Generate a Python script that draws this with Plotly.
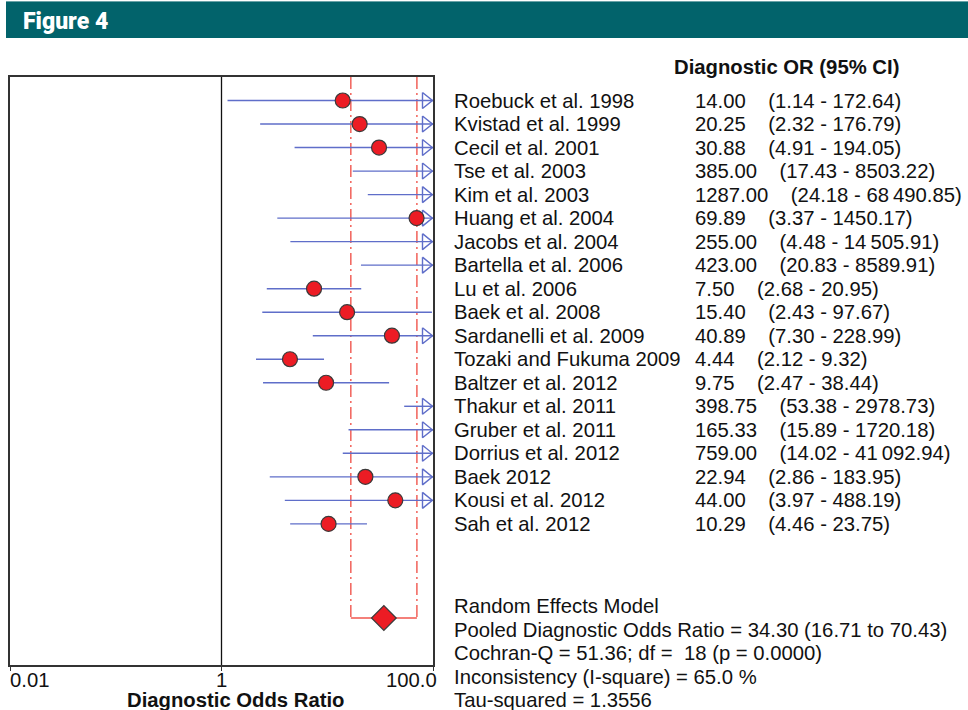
import plotly.graph_objects as go

# ---- study-level data ----
studies = [
    "Roebuck et al. 1998", "Kvistad et al. 1999", "Cecil et al. 2001",
    "Tse et al. 2003", "Kim et al. 2003", "Huang et al. 2004",
    "Jacobs et al. 2004", "Bartella et al. 2006", "Lu et al. 2006",
    "Baek et al. 2008", "Sardanelli et al. 2009", "Tozaki and Fukuma 2009",
    "Baltzer et al. 2012", "Thakur et al. 2011", "Gruber et al. 2011",
    "Dorrius et al. 2012", "Baek 2012", "Kousi et al. 2012", "Sah et al. 2012",
]
odds_ratio = [14.00, 20.25, 30.88, 385.00, 1287.00, 69.89, 255.00, 423.00, 7.50,
              15.40, 40.89, 4.44, 9.75, 398.75, 165.33, 759.00, 22.94, 44.00, 10.29]
ci_low = [1.14, 2.32, 4.91, 17.43, 24.18, 3.37, 4.48, 20.83, 2.68,
          2.43, 7.30, 2.12, 2.47, 53.38, 15.89, 14.02, 2.86, 3.97, 4.46]
ci_high = [172.64, 176.79, 194.05, 8503.22, 68490.85, 1450.17, 14505.91, 8589.91, 20.95,
           97.67, 228.99, 9.32, 38.44, 2978.73, 1720.18, 41092.94, 183.95, 488.19, 23.75]

# ---- pooled estimate ----
pooled_or = 34.30
pooled_low = 16.71
pooled_high = 70.43
cochran_q = 51.36
q_df = 18
q_p = 0.0000
i_square = 65.0
tau_squared = 1.3556

# axis limits and tick labels
x_min, x_max = 0.01, 100.0
tick_values = [0.01, 1, 100]
tick_labels = ["0.01", "1", "100.0"]

BLUE = "#5f6ec9"
RED = "#ec1c24"
RED_LINE = "#f0564e"
EDGE = "#3a3a3a"
FONT = "Liberation Sans, Arial, sans-serif"
TXT = "#111111"
FS = 20.3

n = len(studies)
pooled_row = n + 3

# plot area geometry (pixels)
L, W = 10, 423
T, H = 77, 588
ROW_PX = H / (pooled_row + 3)


def px(p):
    return (p - L) / W


def py(p):
    return (T + H - p) / H


def fmt(v):
    s = f"{v:,.2f}"
    if v >= 10000:
        return s.replace(",", "\u2009")
    return s.replace(",", "")


fig = go.Figure()

# reference line at OR = 1
fig.add_trace(go.Scatter(x=[1, 1], y=[-1, pooled_row + 2], mode="lines",
                         line=dict(color="#111111", width=1.3), hoverinfo="skip"))

# pooled CI guide lines (dash-dot) and bracket
for v in (pooled_low, pooled_high):
    fig.add_trace(go.Scatter(x=[v, v], y=[-1, pooled_row], mode="lines",
                             line=dict(color=RED_LINE, width=1.4, dash="12px,4px,2px,4px"),
                             hoverinfo="skip"))
fig.add_trace(go.Scatter(x=[pooled_low, pooled_high], y=[pooled_row, pooled_row],
                         mode="lines", line=dict(color=RED_LINE, width=1.4),
                         hoverinfo="skip"))

# confidence interval whiskers
cx, cy = [], []
for i in range(n):
    cx += [max(ci_low[i], x_min), min(ci_high[i], x_max), None]
    cy += [i, i, None]
fig.add_trace(go.Scatter(x=cx, y=cy, mode="lines", line=dict(color=BLUE, width=1.4),
                         hoverinfo="skip"))

# open arrowheads where the interval runs beyond the axis
tip = x_max * 10 ** (-0.6 / 105.75)
back = x_max * 10 ** (-10.5 / 105.75)
half = 8 / ROW_PX
ax_, ay_ = [], []
for i in range(n):
    if ci_high[i] > x_max:
        ax_ += [back, tip, back, back, None]
        ay_ += [i - half, i, i + half, i - half, None]
fig.add_trace(go.Scatter(x=ax_, y=ay_, mode="lines",
                         line=dict(color=BLUE, width=1.4), hoverinfo="skip"))

# point estimates inside the axis range
pr = [i for i in range(n) if odds_ratio[i] <= x_max]
fig.add_trace(go.Scatter(x=[odds_ratio[i] for i in pr], y=pr, mode="markers",
                         marker=dict(symbol="circle", size=15, color=RED,
                                     line=dict(color=EDGE, width=1.2)),
                         cliponaxis=False, hoverinfo="skip"))

# pooled diamond
fig.add_trace(go.Scatter(x=[pooled_or], y=[pooled_row], mode="markers",
                         marker=dict(symbol="diamond", size=19, color=RED,
                                     line=dict(color=EDGE, width=1.2)),
                         cliponaxis=False, hoverinfo="skip"))

# ---- text annotations ----
ann = []


def text(x_px, y_px, s, anchor="left", size=FS, bold=False, color=TXT, family=FONT, xs=-3):
    ann.append(dict(x=px(x_px), y=py(y_px), xref="paper", yref="paper",
                    xanchor=anchor, yanchor="middle", showarrow=False,
                    text=f"<b>{s}</b>" if bold else s, xshift=xs,
                    font=dict(family=family, size=size, color=color)))


def row_px(r):
    return T + (r + 1) * ROW_PX


text(675, 67, "Diagnostic OR (95% CI)", bold=True)
sp = "\u00a0" * 4
for i in range(n):
    text(455, row_px(i), studies[i])
    text(696, row_px(i), f"{fmt(odds_ratio[i])}{sp}({fmt(ci_low[i])} - {fmt(ci_high[i])})")

summary = [
    "Random Effects Model",
    f"Pooled Diagnostic Odds Ratio = {pooled_or:.2f} ({pooled_low:.2f} to {pooled_high:.2f})",
    f"Cochran-Q = {cochran_q:.2f}; df = \u00a0{q_df} (p = {q_p:.4f})",
    f"Inconsistency (I-square) = {i_square:.1f} %",
    f"Tau-squared = {tau_squared:.4f}",
]
for k, line in enumerate(summary):
    text(455, row_px(pooled_row - 0.5 + k), line)

# x tick labels
text(L, 680, tick_labels[0], anchor="left", xs=-2)
text(L + W / 2, 680, tick_labels[1], anchor="center", xs=0)
text(L + W, 680, tick_labels[2], anchor="right", xs=6)
text(235, 700, "Diagnostic Odds Ratio", anchor="center", bold=True, xs=0)

# header banner
ann.append(dict(x=px(22), y=py(22), xref="paper", yref="paper",
                xanchor="left", yanchor="middle", showarrow=False,
                text="Figure 4", xshift=-1,
                font=dict(family="Roboto, Liberation Sans, sans-serif", size=23,
                          color="white", weight=900)))

shapes = [
    dict(type="rect", xref="paper", yref="paper", x0=px(6), x1=px(968), y0=py(38), y1=py(1),
         fillcolor="#02636b", line=dict(width=0), layer="below"),
    dict(type="line", xref="paper", yref="paper", x0=px(6), x1=px(968), y0=py(1.5), y1=py(1.5),
         line=dict(color="#6aa3a8", width=1)),
]

fig.update_layout(
    width=968, height=710,
    margin=dict(l=L, r=968 - L - W, t=T, b=710 - T - H),
    paper_bgcolor="white", plot_bgcolor="white",
    showlegend=False,
    annotations=ann, shapes=shapes,
    xaxis=dict(type="log", range=[-2, 2], showgrid=False, zeroline=False,
               showline=True, linecolor="#333333", linewidth=1.6, mirror=True,
               ticks="outside", ticklen=4, tickcolor="#333333",
               tickvals=tick_values, showticklabels=False, fixedrange=True),
    yaxis=dict(range=[pooled_row + 2, -1], showgrid=False, zeroline=False,
               showline=True, linecolor="#333333", linewidth=1.6, mirror=True,
               showticklabels=False, ticks="", fixedrange=True),
)

fig.write_html("out.html")
